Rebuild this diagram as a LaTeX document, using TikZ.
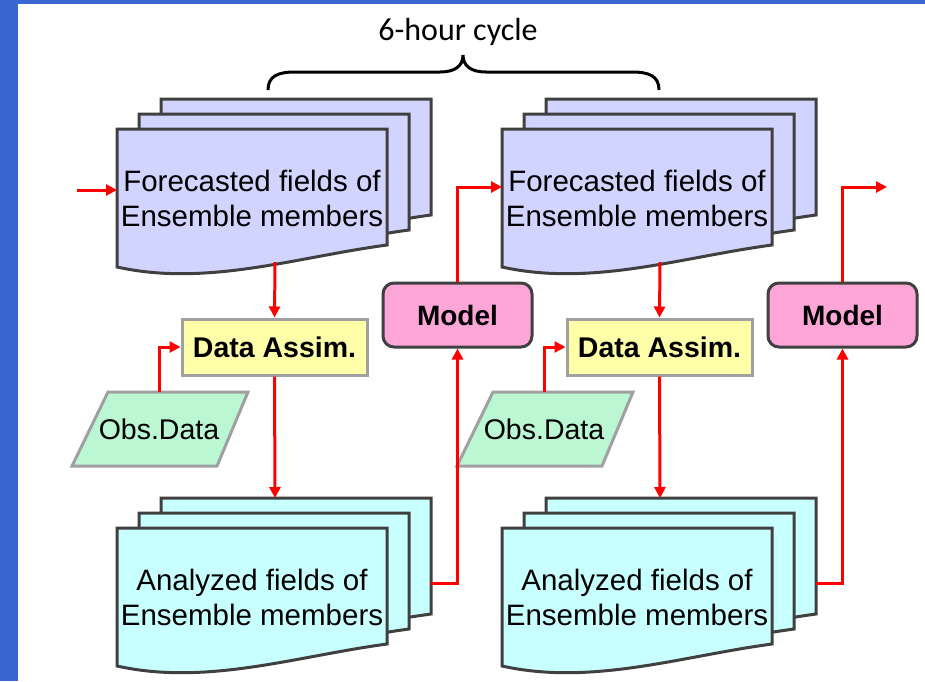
\documentclass[tikz,border=0pt]{standalone}
\usepackage{fontspec}
\setmainfont{Liberation Sans}
\newfontfamily\calib{Carlito}
\usetikzlibrary{arrows.meta}
\definecolor{bandblue}{RGB}{58,102,209}
\definecolor{fcfill}{RGB}{208,212,255}
\definecolor{anfill}{RGB}{200,255,255}
\definecolor{dafill}{RGB}{255,255,170}
\definecolor{obfill}{RGB}{187,247,210}
\definecolor{mofill}{RGB}{255,166,217}
\definecolor{darkline}{RGB}{64,64,64}
\definecolor{grayline}{RGB}{160,160,160}
\tikzset{
  docline/.style={draw=darkline,line width=3pt},
  doctext/.style={align=center,inner sep=0pt,font=\fontsize{29.5}{35}\selectfont},
  assim/.style={draw=grayline,line width=3pt,fill=dafill,minimum width=185pt,minimum height=56pt,inner sep=0pt,font=\fontsize{28.5}{30}\selectfont\bfseries},
  obsline/.style={draw=grayline,line width=3pt,fill=obfill},
  obstext/.style={inner sep=0pt,font=\fontsize{28.5}{30}\selectfont},
  modelbox/.style={draw=darkline,line width=3pt,fill=mofill,rounded corners=11pt,minimum width=149pt,minimum height=64pt,inner sep=0pt,font=\fontsize{28}{30}\selectfont\bfseries},
  arr/.style={draw=red,line width=3pt,-{Triangle[length=11pt,width=11pt]}},
}
\newcommand{\docpage}[3]{%
  \begin{scope}[shift={(#1,#2)}]
    \filldraw[docline,fill=#3] (0,0) -- (270,0) -- (270,116) .. controls (180,128) and (90,158) .. (0,138) -- cycle;
  \end{scope}}
\newcommand{\docstack}[3]{%
  \docpage{#1+44}{#2-30}{#3}%
  \docpage{#1+22}{#2-15}{#3}%
  \docpage{#1}{#2}{#3}}
\begin{document}
\begin{tikzpicture}[x=1pt,y=-1pt]
\useasboundingbox (0,0) rectangle (925,681);
\fill[white] (0,0) rectangle (925,681);
\fill[bandblue] (0,0) rectangle (18,681);
\fill[bandblue] (0,0) rectangle (925,4);
% title and brace
\node[anchor=base,inner sep=0pt,font=\calib\fontsize{32}{34}\selectfont] (cyc) at (458,40) {6-hour cycle};
\draw[line width=3pt] (268,90) .. controls (268,76) and (278,72) .. (295,72) -- (440,72) .. controls (455,72) and (463,66) .. (463,55)
  .. controls (463,66) and (471,72) .. (486,72) -- (632,72) .. controls (649,72) and (659,76) .. (659,90);
% stacks
\docstack{117}{129}{fcfill}
\docstack{502}{129}{fcfill}
\docstack{117}{528}{anfill}
\docstack{502}{528}{anfill}
\node[doctext] (fc1) at (252,198) {Forecasted fields of\\Ensemble members};
\node[doctext] (fc2) at (637,198) {Forecasted fields of\\Ensemble members};
\node[doctext] (an1) at (252,597) {Analyzed fields of\\Ensemble members};
\node[doctext] (an2) at (637,597) {Analyzed fields of\\Ensemble members};
% obs data
\filldraw[obsline] (108,392) -- (248,392) -- (217,466) -- (72,466) -- cycle;
\filldraw[obsline] (493,392) -- (633,392) -- (602,466) -- (457,466) -- cycle;
\node[obstext] (ob1) at (159,429) {Obs.Data};
\node[obstext] (ob2) at (544,429) {Obs.Data};
% boxes
\node[assim] (da1) at (274.5,347) {Data Assim.};
\node[assim] (da2) at (659.5,347) {Data Assim.};
\node[modelbox] (mo1) at (457.5,315) {Model};
\node[modelbox] (mo2) at (842.5,315) {Model};
% connector coordinates
\coordinate (in0) at (77,190);
\coordinate (fc1in) at (117,190);
\coordinate (fc1bot) at (275,262);
\coordinate (fc2bot) at (660,262);
\coordinate (ob1top) at (159,392);
\coordinate (ob2top) at (544,392);
\coordinate (an1top) at (275,498);
\coordinate (an2top) at (660,498);
\coordinate (an1out) at (431,583);
\coordinate (an2out) at (816,583);
\coordinate (fc2in) at (502,187);
\coordinate (outend) at (887,187);
% connectors
\draw[arr] (in0) -- (fc1in);
\draw[arr] (fc1bot) -- (da1.north);
\draw[arr] (fc2bot) -- (da2.north);
\draw[arr] (ob1top) |- (da1.west);
\draw[arr] (ob2top) |- (da2.west);
\draw[arr] (da1.south) -- (an1top);
\draw[arr] (da2.south) -- (an2top);
\draw[arr] (an1out) -| (mo1.south);
\draw[arr] (an2out) -| (mo2.south);
\draw[arr] (mo1.north) |- (fc2in);
\draw[arr] (mo2.north) |- (outend);
\end{tikzpicture}
\end{document}
